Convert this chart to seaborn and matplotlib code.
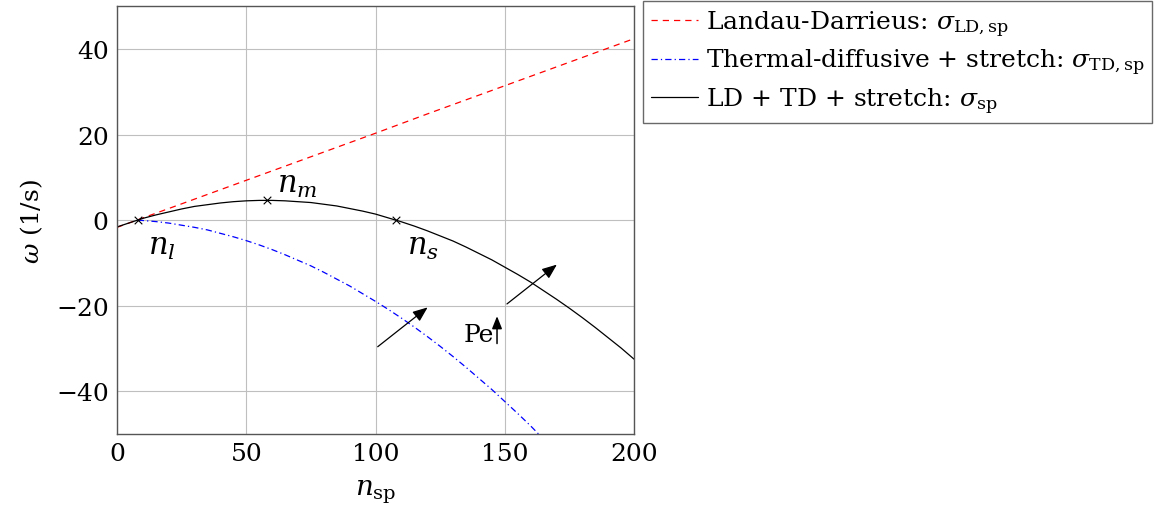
import pandas as pd
import matplotlib
matplotlib.use("Agg")
import matplotlib.pyplot as plt
import seaborn as sns

# values
n_ld = [0, 20, 40, 60, 80, 100, 120, 140, 160, 180, 200]
sigma_ld = [-1.7, 2.7, 7.1, 11.5, 15.9, 20.3, 24.8, 29.2, 33.6, 38.0, 42.4]

n_td = [8, 10, 15, 20, 25, 30, 35, 40, 45, 50, 55, 60, 65, 70, 75, 80, 85,
        90, 95, 100, 105, 110, 115, 120, 125, 130, 135, 140, 145, 150, 155,
        160, 165]
sigma_td = [0.0, -0.1, -0.35, -0.7, -1.2, -1.7, -2.3, -3.1, -3.9, -4.8, -5.8,
            -6.9, -8.1, -9.4, -10.7, -12.2, -13.8, -15.4, -17.2, -19.0, -20.9,
            -22.9, -25.0, -27.2, -29.5, -31.9, -34.4, -37.0, -39.6, -42.4,
            -45.2, -48.1, -51.2]

n_sp = [0, 5, 10, 15, 20, 25, 30, 35, 40, 45, 50, 55, 60, 65, 70, 75, 80,
        85, 90, 95, 100, 105, 110, 115, 120, 125, 130, 135, 140, 145, 150,
        155, 160, 165, 170, 175, 180, 185, 190, 195, 200]
sigma_sp = [-1.6, -0.6, 0.4, 1.2, 1.9, 2.6, 3.2, 3.6, 4.0, 4.3, 4.5, 4.6, 4.6,
            4.5, 4.3, 4.1, 3.7, 3.3, 2.7, 2.1, 1.4, 0.5, -0.4, -1.4, -2.5,
            -3.7, -4.9, -6.3, -7.8, -9.3, -11.0, -12.7, -14.5, -16.5, -18.5,
            -20.6, -22.8, -25.1, -27.5, -29.9, -32.5]

mark_x = [8, 58, 108]
mark_y = [0.0, 4.6, 0.0]
mark_lbl = ["$n_l$", "$n_m$", "$n_s$"]

labels = ["Landau-Darrieus: $\\sigma_{\\mathrm{LD,sp}}$",
          "Thermal-diffusive + stretch: $\\sigma_{\\mathrm{TD,sp}}$",
          "LD + TD + stretch: $\\sigma_{\\mathrm{sp}}$"]

sns.set_style("white")
plt.rcParams["font.family"] = ["DejaVu Serif"]
plt.rcParams["mathtext.fontset"] = "dejavuserif"
plt.rcParams["font.size"] = 18
for k in ["text.color", "axes.labelcolor", "xtick.color", "ytick.color"]:
    plt.rcParams[k] = "black"

df_ld = pd.DataFrame({"n": n_ld, "w": sigma_ld})
df_td = pd.DataFrame({"n": n_td, "w": sigma_td})
df_sp = pd.DataFrame({"n": n_sp, "w": sigma_sp})

fig = plt.figure(figsize=(11.75, 5.1), dpi=100)
ax = fig.add_axes([0.0996, 0.147, 0.44, 0.839])

sns.lineplot(data=df_ld, x="n", y="w", ax=ax, color="red", lw=0.9,
             linestyle=(0, (5, 4)), label=labels[0])
sns.lineplot(data=df_td, x="n", y="w", ax=ax, color="blue", lw=0.9,
             linestyle=(0, (5, 2.5, 1, 2.5)), label=labels[1])
sns.lineplot(data=df_sp, x="n", y="w", ax=ax, color="black", lw=0.9,
             label=labels[2])

ax.scatter(mark_x, mark_y, marker="x", color="black", s=30, lw=0.8, zorder=5)
offs = [(4, -6), (4, 4), (4, -6)]
for x, y, t, (dx, dy) in zip(mark_x, mark_y, mark_lbl, offs):
    ax.text(x + dx, y + dy, t, fontsize=22, va="center", ha="left")

arrow = dict(arrowstyle="-|>,head_length=0.5,head_width=0.2", color="black",
             lw=0.9, mutation_scale=18)
ax.annotate("", xy=(121, -20), xytext=(100, -30), arrowprops=arrow)
ax.annotate("", xy=(171, -10), xytext=(150, -20), arrowprops=arrow)
ax.annotate("", xy=(147, -21.8), xytext=(147, -29.5), arrowprops=dict(
    arrowstyle="-|>,head_length=0.5,head_width=0.2", color="black", lw=1.1,
    mutation_scale=15))
ax.text(146, -26.8, "Pe", fontsize=18, ha="right", va="center")

ax.set_xlim(0, 200)
ax.set_ylim(-50, 50)
ax.set_xticks([0, 50, 100, 150, 200])
ax.set_yticks([-40, -20, 0, 20, 40])
ax.set_yticklabels(["\u221240", "\u221220", "0", "20", "40"])
ax.grid(True, color="#bfbfbf", lw=0.8)
ax.tick_params(labelsize=18, length=0, pad=6)
for s in ax.spines.values():
    s.set_color("#555555")
    s.set_linewidth(1.0)
ax.set_xlabel("$n_{\\mathrm{sp}}$", fontsize=20, labelpad=9)
ax.set_ylabel("$\\omega$ (1/s)", fontsize=18, labelpad=8)

h, l = ax.get_legend_handles_labels()
ax.legend_.remove()
leg = fig.legend(h, l, loc="upper left", bbox_to_anchor=(643 / 1175, 1 - 2 / 510),
                 fontsize=18, frameon=True, fancybox=False, handlelength=1.9,
                 handletextpad=0.3, borderpad=0.3, labelspacing=0.32,
                 borderaxespad=0)
leg.get_frame().set_edgecolor("#444444")
leg.get_frame().set_linewidth(1.0)

fig.savefig("out.png", dpi=100)
